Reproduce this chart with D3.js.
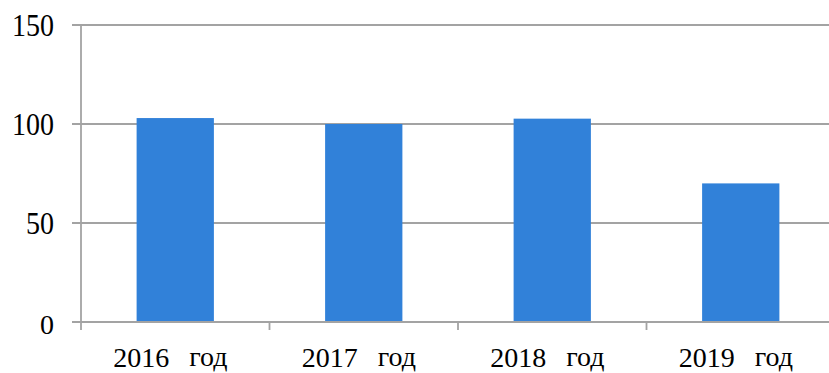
<!DOCTYPE html>
<html>
<head>
<meta charset="utf-8">
<script src="https://cdn.jsdelivr.net/npm/d3@7"></script>
<style>
  html, body { margin: 0; padding: 0; background: #fff; }
  svg { display: block; }
  text { font-family: "Liberation Serif", "Times New Roman", serif; fill: #000; }
</style>
</head>
<body>
<svg id="chart" width="829" height="373"></svg>
<script>
// Data
const years = ["2016", "2017", "2018", "2019"];
const values = [103, 100, 102.7, 70];
const yTicks = [0, 50, 100, 150];
const suffix = "год";

const svg = d3.select("#chart");
const plotLeft = 81, plotRight = 835, plotTop = 25, plotBottom = 322;

const x = d3.scaleBand().domain(years).range([plotLeft, plotRight]).padding(0);
const y = d3.scaleLinear().domain([0, 150]).range([plotBottom, plotTop]);
const barFrac = 0.41;
const gridColor = "#a3a3a3";

// Horizontal gridlines (above zero)
svg.append("g").selectAll("line")
  .data(yTicks.filter(d => d > 0))
  .join("line")
  .attr("x1", plotLeft - 9).attr("x2", 829)
  .attr("y1", d => y(d)).attr("y2", d => y(d))
  .attr("stroke", gridColor).attr("stroke-width", 1.8);

// Bars
svg.append("g").selectAll("rect")
  .data(years)
  .join("rect")
  .attr("x", (d) => x(d) + x.bandwidth() * (1 - barFrac) / 2)
  .attr("width", x.bandwidth() * barFrac)
  .attr("y", (d, i) => y(values[i]))
  .attr("height", (d, i) => y(0) - y(values[i]))
  .attr("fill", "#3181d9");

// Y axis line
svg.append("line")
  .attr("x1", plotLeft).attr("x2", plotLeft)
  .attr("y1", y(150)).attr("y2", y(0) + 8)
  .attr("stroke", gridColor).attr("stroke-width", 1.8);

// X axis line
svg.append("line")
  .attr("x1", plotLeft - 9).attr("x2", 829)
  .attr("y1", y(0)).attr("y2", y(0))
  .attr("stroke", gridColor).attr("stroke-width", 1.8);

// Category boundary ticks
svg.append("g").selectAll("line")
  .data(years.slice(1))
  .join("line")
  .attr("x1", d => x(d)).attr("x2", d => x(d))
  .attr("y1", y(0)).attr("y2", y(0) + 8)
  .attr("stroke", gridColor).attr("stroke-width", 1.8);

// Y tick labels (slightly tall lettering)
svg.append("g").selectAll("text")
  .data(yTicks)
  .join("text")
  .attr("transform", d => d === 0
    ? `translate(54,${y(d) + 2}) scale(1,1)`
    : `translate(54,${y(d)}) scale(1,1.14)`)
  .attr("y", 9.5)
  .attr("text-anchor", "end")
  .attr("font-size", 28)
  .text(d => d);

// X labels: year + suffix
const xl = svg.append("g").selectAll("g")
  .data(years)
  .join("g")
  .attr("transform", d => `translate(${x(d) + x.bandwidth() / 2},367)`);
xl.append("text")
  .attr("x", -6)
  .attr("text-anchor", "end")
  .attr("font-size", 28)
  .text(d => d);
xl.append("text")
  .attr("x", 14)
  .attr("y", -1)
  .attr("text-anchor", "start")
  .attr("font-size", 28)
  .text(suffix);
</script>
</body>
</html>
